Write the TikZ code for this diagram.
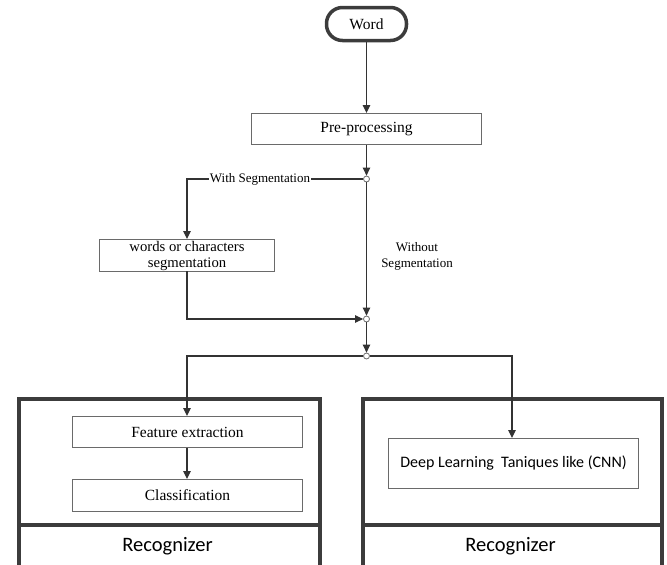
\documentclass[tikz,border=0pt]{standalone}
\usepackage{fontspec}
\setmainfont{Liberation Serif}
\newfontfamily\carlfont{Carlito}
\usetikzlibrary{arrows.meta,positioning}
\definecolor{lineclr}{HTML}{333333}
\definecolor{boxclr}{HTML}{6A6A6A}
\definecolor{bigclr}{HTML}{3C3C3C}
\tikzset{
  stepbox/.style={draw=boxclr, line width=1pt, fill=white, inner sep=0pt, anchor=north west,
    font=\fontsize{15.5}{16}\selectfont, align=center},
  bigbox/.style={draw=bigclr, line width=3.5pt, inner sep=0pt, anchor=north west},
  junct/.style={circle, draw=boxclr, fill=white, line width=0.8pt, minimum size=6pt, inner sep=0pt},
  conn/.style={draw=lineclr, line width=1.1pt},
  arr/.style={conn, -{Triangle[length=8pt,width=7.5pt]}},
  lbl/.style={font=\fontsize{13}{16}\selectfont, align=center, inner sep=1pt},
  recog/.style={font=\carlfont\fontsize{20.5}{22}\selectfont}
}
\begin{document}
\begin{tikzpicture}[x=1pt,y=-1pt]
\useasboundingbox (0,0) rectangle (667,565);
% big boxes
\node[bigbox, minimum width=301pt, minimum height=200pt] (lbig) at (17,397) {};
\node[bigbox, minimum width=299pt, minimum height=200pt] (rbig) at (361,397) {};
\draw[draw=bigclr, line width=3.5pt] (lbig.west |- 0,525) -- (lbig.east |- 0,525);
\draw[draw=bigclr, line width=3.5pt] (rbig.west |- 0,525) -- (rbig.east |- 0,525);
\node[recog] (lrec) at (167.5,546) {Recognizer};
\node[recog] (rrec) at (510.5,546) {Recognizer};
% word
\node[draw=bigclr, line width=3.5pt, rounded corners=16pt, minimum width=80pt, minimum height=33pt,
  inner sep=0pt, font=\fontsize{15.5}{16}\selectfont] (word) at (366.5,24) {Word};
% boxes
\node[stepbox, minimum width=230pt, minimum height=31pt] (pre) at (251,113) {Pre-processing};
\node[stepbox, minimum width=175pt, minimum height=32pt, font=\fontsize{14.7}{16}\selectfont] (seg) at (99,239) {words or characters\\segmentation};
\node[stepbox, minimum width=230pt, minimum height=31pt] (fe) at (72,416) {Feature extraction};
\node[stepbox, minimum width=230pt, minimum height=32pt] (cls) at (72,479) {Classification};
\node[stepbox, minimum width=250pt, minimum height=50pt, font=\carlfont\fontsize{16}{18}\selectfont] (deep) at (388,438) {Deep Learning\ \ Taniques like (CNN)};
% junctions
\node[junct] (j1) at (366.5,179) {};
\node[junct] (j2) at (366.5,319) {};
\node[junct] (j3) at (366.5,356) {};
\coordinate (segtop) at (187,239);
\coordinate (segbot) at (187,271);
\coordinate (fetop) at (187,416);
\coordinate (deeptop) at (512,438);
% connectors
\draw[arr] (word.south) -- (pre.north -| word.south);
\draw[arr] (pre.south -| j1) -- (j1);
\draw[arr] (j1) -| (segtop);
\draw[arr] (segbot) |- (j2);
\draw[arr] (j1) -- (j2);
\draw[arr] (j2) -- (j3);
\draw[arr] (j3) -| (fetop);
\draw[arr] (j3) -| (deeptop);
\draw[arr] (fe.south -| fetop) -- (cls.north -| fetop);
% labels
\node[lbl, fill=white] (withlbl) at (260,179) {With Segmentation};
\node[lbl] (wolbl) at (417,256) {Without\\Segmentation};
\end{tikzpicture}
\end{document}
